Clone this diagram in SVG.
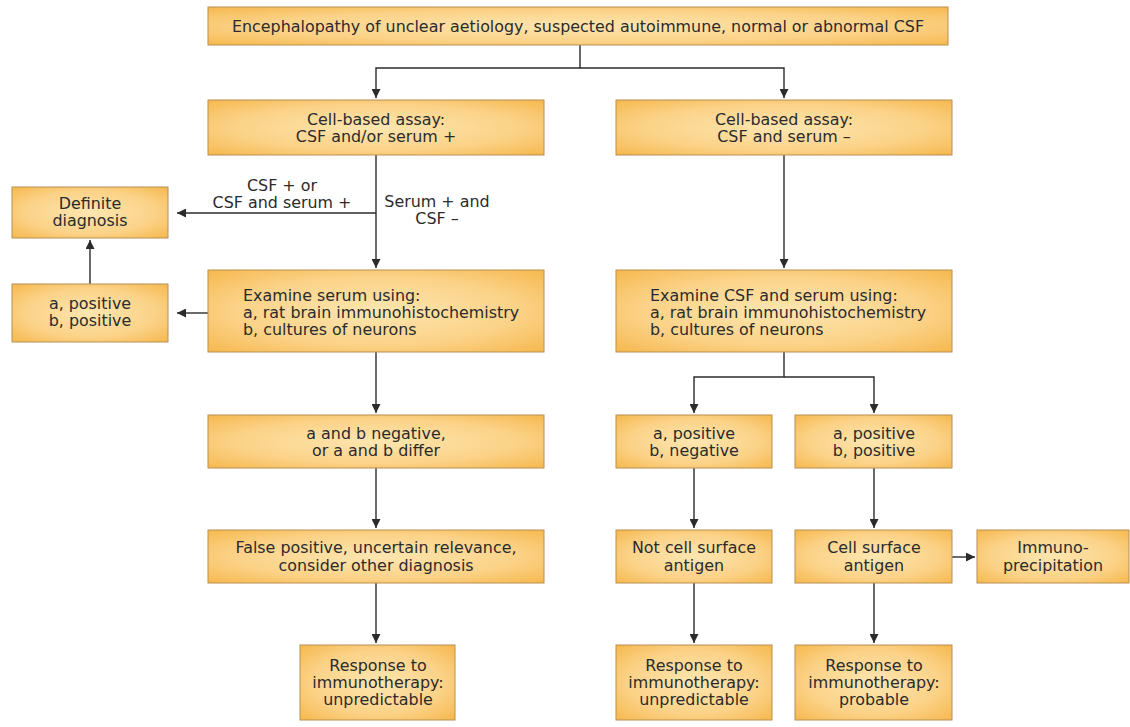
<svg xmlns="http://www.w3.org/2000/svg" width="1130" height="727" viewBox="0 0 1130 727">
<style>
.box{fill:url(#g);stroke:#b89050;stroke-width:1}
text{font-family:"DejaVu Sans","Liberation Sans",Arial,sans-serif;font-size:15.9px;fill:#2b2b2b}
.c{text-anchor:middle}
.ln{fill:none;stroke:#2b2b2b;stroke-width:1.4}
</style>
<defs>
<radialGradient id="g" cx="0.5" cy="0.5" r="0.7">
<stop offset="0" stop-color="#fde6b0"/>
<stop offset="0.6" stop-color="#fbd287"/>
<stop offset="1" stop-color="#f6b84e"/>
</radialGradient>
<marker id="a" viewBox="0 0 10 10" refX="10" refY="5" markerWidth="9" markerHeight="9" markerUnits="userSpaceOnUse" orient="auto">
<path d="M0,0 L10,5 L0,10 z" fill="#2b2b2b"/>
</marker>
</defs>
<rect width="1130" height="727" fill="#ffffff"/>
<g id="connectors">
<path class="ln" d="M580,45 V68 H376 V98" marker-end="url(#a)"/>
<path class="ln" d="M580,68 H784 V98" marker-end="url(#a)"/>
<path class="ln" d="M376,155 V268" marker-end="url(#a)"/>
<path class="ln" d="M376,213 H177" marker-end="url(#a)"/>
<path class="ln" d="M208,313 H177" marker-end="url(#a)"/>
<path class="ln" d="M90,284 V240" marker-end="url(#a)"/>
<path class="ln" d="M784,155 V268" marker-end="url(#a)"/>
<path class="ln" d="M784,352 V377 H694 V413" marker-end="url(#a)"/>
<path class="ln" d="M784,377 H874 V413" marker-end="url(#a)"/>
<path class="ln" d="M376,352 V413" marker-end="url(#a)"/>
<path class="ln" d="M376,468 V528" marker-end="url(#a)"/>
<path class="ln" d="M376,583 V643" marker-end="url(#a)"/>
<path class="ln" d="M694,468 V528" marker-end="url(#a)"/>
<path class="ln" d="M694,583 V643" marker-end="url(#a)"/>
<path class="ln" d="M874,468 V528" marker-end="url(#a)"/>
<path class="ln" d="M874,583 V643" marker-end="url(#a)"/>
<path class="ln" d="M952,557 H975" marker-end="url(#a)"/>
<text class="c" x="282" y="191">CSF + or</text>
<text class="c" x="282" y="208">CSF and serum +</text>
<text class="c" x="437" y="207">Serum + and</text>
<text class="c" x="437" y="224">CSF –</text>
</g>
<g id="n1"><rect class="box" x="208" y="7" width="740" height="38"/><text class="c" x="578" y="32">Encephalopathy of unclear aetiology, suspected autoimmune, normal or abnormal CSF</text></g>
<g id="n2"><rect class="box" x="208" y="100" width="336" height="55"/><text class="c" x="376" y="125">Cell-based assay:</text><text class="c" x="376" y="142">CSF and/or serum +</text></g>
<g id="n3"><rect class="box" x="616" y="100" width="336" height="55"/><text class="c" x="784" y="125">Cell-based assay:</text><text class="c" x="784" y="142">CSF and serum –</text></g>
<g id="n4"><rect class="box" x="12" y="187" width="156" height="51"/><text class="c" x="90" y="209">Definite</text><text class="c" x="90" y="226">diagnosis</text></g>
<g id="n5"><rect class="box" x="208" y="270" width="336" height="82"/><text x="243" y="301">Examine serum using:</text><text x="243" y="318">a, rat brain immunohistochemistry</text><text x="243" y="335">b, cultures of neurons</text></g>
<g id="n6"><rect class="box" x="12" y="284" width="156" height="58"/><text class="c" x="90" y="309">a, positive</text><text class="c" x="90" y="326">b, positive</text></g>
<g id="n7"><rect class="box" x="616" y="270" width="336" height="82"/><text x="650" y="301">Examine CSF and serum using:</text><text x="650" y="318">a, rat brain immunohistochemistry</text><text x="650" y="335">b, cultures of neurons</text></g>
<g id="n8"><rect class="box" x="208" y="415" width="336" height="53"/><text class="c" x="376" y="439">a and b negative,</text><text class="c" x="376" y="456">or a and b differ</text></g>
<g id="n9"><rect class="box" x="616" y="415" width="156" height="53"/><text class="c" x="694" y="439">a, positive</text><text class="c" x="694" y="456">b, negative</text></g>
<g id="n10"><rect class="box" x="795" y="415" width="157" height="53"/><text class="c" x="874" y="439">a, positive</text><text class="c" x="874" y="456">b, positive</text></g>
<g id="n11"><rect class="box" x="208" y="530" width="336" height="53"/><text class="c" x="376" y="553">False positive, uncertain relevance,</text><text class="c" x="376" y="571">consider other diagnosis</text></g>
<g id="n12"><rect class="box" x="616" y="530" width="156" height="53"/><text class="c" x="694" y="553">Not cell surface</text><text class="c" x="694" y="571">antigen</text></g>
<g id="n13"><rect class="box" x="795" y="530" width="157" height="53"/><text class="c" x="874" y="553">Cell surface</text><text class="c" x="874" y="571">antigen</text></g>
<g id="n14"><rect class="box" x="977" y="530" width="152" height="53"/><text class="c" x="1053" y="553">Immuno-</text><text class="c" x="1053" y="571">precipitation</text></g>
<g id="n15"><rect class="box" x="300" y="645" width="155" height="75"/><text class="c" x="378" y="671">Response to</text><text class="c" x="378" y="688">immunotherapy:</text><text class="c" x="378" y="705">unpredictable</text></g>
<g id="n16"><rect class="box" x="616" y="645" width="156" height="75"/><text class="c" x="694" y="671">Response to</text><text class="c" x="694" y="688">immunotherapy:</text><text class="c" x="694" y="705">unpredictable</text></g>
<g id="n17"><rect class="box" x="795" y="645" width="157" height="75"/><text class="c" x="874" y="671">Response to</text><text class="c" x="874" y="688">immunotherapy:</text><text class="c" x="874" y="705">probable</text></g>
</svg>
